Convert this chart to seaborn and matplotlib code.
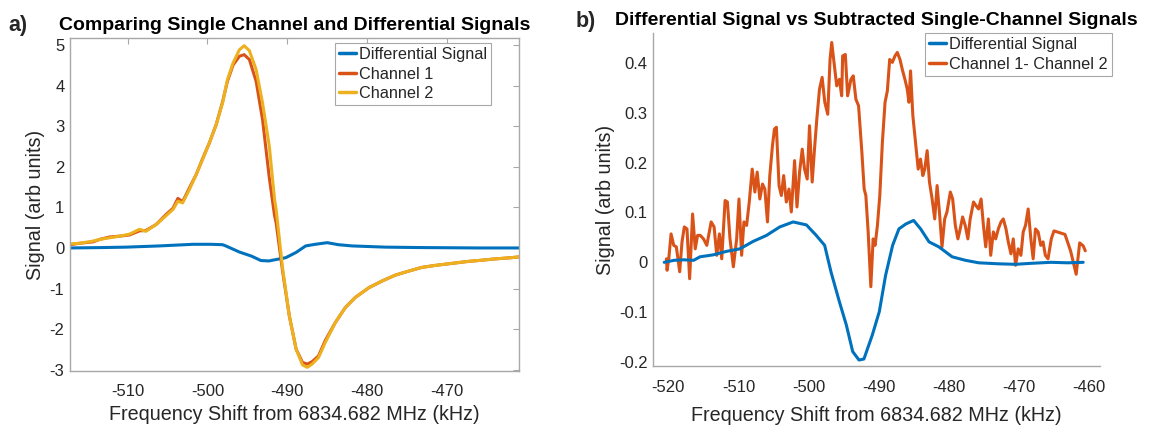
import matplotlib
matplotlib.use("Agg")
import matplotlib.pyplot as plt
import matplotlib.ticker as mticker
import seaborn as sns

# ---------------- panel a: single channels vs differential ----------------
freq_ch = [-517.2, -516.0, -514.3, -513.5, -512.25, -511.0, -509.75, -508.5, -507.7,
           -506.4, -505.2, -504.3, -503.7, -503.1, -502.25, -501.4, -500.6, -499.75,
           -498.9, -498.1, -497.5, -496.8, -496.0, -495.4, -494.75, -493.9, -493.1,
           -492.25, -491.6, -491.4, -490.6, -489.75, -488.9, -488.1, -487.5, -486.9,
           -486.1, -485.25, -484.0, -482.75, -481.5, -479.8, -478.1, -476.5, -474.8,
           -473.2, -471.5, -469.4, -467.3, -466.1, -464.0, -462.0, -461.0]
channel_1 = [0.08, 0.115, 0.15, 0.21, 0.27, 0.29, 0.32, 0.42, 0.43,
             0.58, 0.82, 0.98, 1.22, 1.14, 1.48, 1.81, 2.20, 2.59,
             3.04, 3.60, 4.10, 4.50, 4.72, 4.76, 4.64, 4.10, 3.16,
             1.72, 0.80, 0.62, -0.56, -1.67, -2.49, -2.82, -2.86, -2.80,
             -2.66, -2.28, -1.84, -1.47, -1.22, -0.98, -0.81, -0.67, -0.57,
             -0.48, -0.43, -0.38, -0.33, -0.31, -0.27, -0.24, -0.22]
channel_2 = [0.10, 0.115, 0.17, 0.21, 0.25, 0.29, 0.34, 0.46, 0.41,
             0.58, 0.79, 0.95, 1.15, 1.11, 1.44, 1.81, 2.18, 2.59,
             3.04, 3.57, 4.14, 4.55, 4.88, 4.98, 4.86, 4.39, 3.57,
             2.50, 1.20, 0.95, -0.48, -1.67, -2.49, -2.88, -2.94, -2.86,
             -2.70, -2.33, -1.84, -1.47, -1.22, -0.98, -0.81, -0.67, -0.57,
             -0.48, -0.43, -0.38, -0.33, -0.31, -0.27, -0.24, -0.22]

freq_diff_a = [-517.2, -513.0, -510.2, -506.0, -501.8, -499.5, -498.1, -497.7, -496.0,
               -494.5, -493.3, -492.3, -491.8, -490.2, -488.9, -487.7, -486.5, -485.0,
               -483.6, -481.9, -477.7, -473.5, -466.0, -461.0]
diff_a = [0.0, 0.01, 0.02, 0.05, 0.09, 0.09, 0.08, 0.05, -0.10,
          -0.20, -0.31, -0.32, -0.30, -0.24, -0.11, 0.05, 0.09, 0.13,
          0.08, 0.05, 0.02, 0.01, 0.0, 0.0]

# ---------------- panel b: differential vs channel 1 - channel 2 ----------------
freq_diff_b = [-520.6, -519.2, -517.8, -516.4, -515.5, -513.6, -511.7, -509.8, -507.9,
               -506.0, -504.1, -502.2, -500.3, -498.9, -497.7, -496.8, -495.6, -494.6,
               -493.7, -492.8, -492.1, -490.9, -489.9, -489.0, -488.0, -487.1, -486.1,
               -485.0, -484.0, -482.8, -481.4, -479.5, -477.6, -475.7, -472.9, -470.5,
               -468.2, -465.4, -463.0, -460.8]
diff_b = [0.0, 0.004, 0.005, 0.004, 0.011, 0.015, 0.022, 0.027, 0.042,
          0.054, 0.071, 0.081, 0.075, 0.054, 0.034, -0.019, -0.079, -0.126,
          -0.179, -0.196, -0.194, -0.146, -0.099, -0.026, 0.034, 0.067, 0.077,
          0.084, 0.067, 0.041, 0.031, 0.011, 0.004, -0.001, -0.003, -0.004,
          -0.002, 0.0, -0.001, 0.0]

freq_sub = [-520.28, -520.19, -519.95, -519.62, -519.24, -518.87, -518.39, -518.06, -517.73,
            -517.35, -516.97, -516.55, -516.17, -515.84, -515.46, -514.99, -514.52, -513.90,
            -513.48, -513.10, -512.72, -512.39, -511.91, -511.58, -511.21, -510.73, -510.26,
            -509.93, -509.55, -509.22, -508.84, -508.46, -508.04, -507.66, -507.33, -506.95,
            -506.57, -506.24, -505.86, -505.53, -505.15, -504.87, -504.59, -504.21, -503.88,
            -503.55, -503.17, -502.79, -502.46, -501.99, -501.65, -501.28, -500.90, -500.57,
            -500.19, -499.86, -499.48, -499.15, -498.82, -498.44, -498.06, -497.68, -497.26,
            -496.93, -496.69, -496.31, -495.98, -495.60, -495.27,
            -495.13, -494.75, -494.42, -493.95, -493.62, -493.24, -492.86, -492.39, -492.06,
            -491.82, -491.49, -491.11, -490.78, -490.50, -490.17, -489.83, -489.46, -489.08,
            -488.75, -488.42, -488.04, -487.66, -487.33, -486.95, -486.62, -486.24, -485.91,
            -485.67, -485.44, -485.11, -484.73, -484.35, -484.02, -483.69, -483.41, -483.07,
            -482.74, -482.36, -481.99, -481.65, -481.32, -480.95, -480.57, -480.24, -479.76,
            -479.43, -479.05, -478.68, -478.35, -478.01, -477.64, -477.26, -476.93, -476.45,
            -476.12, -475.74, -475.37, -475.04, -474.71, -474.33, -474.00, -473.62, -473.29,
            -472.91, -472.53, -472.20, -471.82, -471.49, -471.11, -470.78, -470.45, -470.07,
            -469.69, -469.36, -469.03, -468.65, -468.27, -467.94, -467.61, -467.23, -466.86,
            -466.53, -466.20, -465.82, -465.35, -464.97, -463.4, -462.6, -461.8, -461.3,
            -460.8, -460.5]
channel_diff = [0.007, -0.016, 0.007, 0.057, 0.034, 0.031, -0.019, 0.041, 0.071,
                0.067, -0.033, 0.097, 0.027, 0.054, 0.054, 0.047, 0.034, 0.081,
                0.071, 0.014, 0.057, 0.007, 0.124, 0.121, 0.047, -0.009, 0.047,
                0.127, 0.014, 0.081, 0.074, 0.121, 0.187, 0.141, 0.181, 0.127,
                0.157, 0.147, 0.081, 0.174, 0.234, 0.267, 0.271, 0.154, 0.134,
                0.174, 0.121, 0.147, 0.101, 0.204, 0.111, 0.181, 0.227, 0.187,
                0.167, 0.274, 0.161, 0.227, 0.287, 0.347, 0.371, 0.321, 0.297,
                0.407, 0.441, 0.394, 0.354, 0.367, 0.334,
                0.414, 0.417, 0.334, 0.367, 0.374, 0.327, 0.314, 0.221, 0.147,
                0.134, 0.061, -0.049, 0.047, 0.034, 0.074, 0.134, 0.241, 0.321,
                0.344, 0.407, 0.401, 0.414, 0.421, 0.407, 0.387, 0.367, 0.347,
                0.321, 0.384, 0.294, 0.241, 0.187, 0.207, 0.174, 0.187, 0.224,
                0.161, 0.127, 0.087, 0.154, 0.101, 0.031, 0.087, 0.101, 0.141,
                0.127, 0.074, 0.047, 0.067, 0.091, 0.074, 0.047, 0.087, 0.121,
                0.114, 0.107, 0.127, 0.074, 0.031, 0.087, 0.014, 0.061, 0.047,
                0.067, 0.081, 0.087, 0.067, 0.041, 0.017, 0.047, -0.006, 0.027,
                0.014, 0.061, 0.074, 0.107, 0.047, 0.007, 0.067, 0.061, 0.034,
                0.041, 0.014, 0.007, 0.047, 0.063, 0.056, 0.023, -0.024, 0.039,
                0.033, 0.023]

# ---------------- styling ----------------
BLUE, RED, YELLOW = "#0072BD", "#D95319", "#EDB120"
SPINE = "#A8A8A8"
TEXT = "#262626"

sns.set_theme(style="white")
plt.rcParams["font.family"] = ["Liberation Sans", "DejaVu Sans"]
plt.rcParams["axes.unicode_minus"] = False

fig = plt.figure(figsize=(11.53, 4.28), dpi=100)
ax_a = fig.add_axes([70 / 1153, 1 - 371 / 428, 449 / 1153, 333 / 428])
ax_b = fig.add_axes([653 / 1153, 1 - 366 / 428, 447 / 1153, 333 / 428])

LW = 2.2
sns.lineplot(x=freq_diff_a, y=diff_a, ax=ax_a, color=BLUE, lw=LW, sort=False,
             estimator=None, label="Differential Signal")
sns.lineplot(x=freq_ch, y=channel_1, ax=ax_a, color=RED, lw=LW, sort=False,
             estimator=None, label="Channel 1")
sns.lineplot(x=freq_ch, y=channel_2, ax=ax_a, color=YELLOW, lw=LW, sort=False,
             estimator=None, label="Channel 2")

sns.lineplot(x=freq_diff_b, y=diff_b, ax=ax_b, color=BLUE, lw=LW, sort=False,
             estimator=None, label="Differential Signal", zorder=3)
sns.lineplot(x=freq_sub, y=channel_diff, ax=ax_b, color=RED, lw=LW, sort=False,
             estimator=None, label="Channel 1- Channel 2", zorder=2)

ax_a.set_xlim(-517.2, -461.0)
ax_a.set_ylim(-3.03, 5.17)
ax_a.set_xticks([-510, -500, -490, -480, -470])
ax_a.set_yticks(range(-3, 6))

ax_b.set_xlim(-522.2, -458.4)
ax_b.set_ylim(-0.208, 0.46)
ax_b.set_xticks(range(-520, -459, 10))
ax_b.set_yticks([-0.2, -0.1, 0, 0.1, 0.2, 0.3, 0.4])

fmt = mticker.FuncFormatter(lambda v, p: f"{round(v, 3):g}")
for ax, xpad, lpad in ((ax_a, 9, 5), (ax_b, 10, 8)):
    ax.xaxis.set_major_formatter(fmt)
    ax.yaxis.set_major_formatter(fmt)
    ax.tick_params(direction="in", length=4, width=0.8, color=SPINE,
                   labelsize=12, labelcolor=TEXT)
    ax.tick_params(axis="x", pad=xpad)
    ax.tick_params(axis="y", pad=4)
    ax.set_xlabel("Frequency Shift from 6834.682 MHz (kHz)", fontsize=14.2,
                  color=TEXT, labelpad=lpad)
    ax.set_ylabel("Signal (arb units)", fontsize=14.2, color=TEXT, labelpad=3)
    for s in ax.spines.values():
        s.set_color(SPINE)
        s.set_linewidth(1.0)

ax_a.tick_params(top=True, right=True)
ax_b.spines["top"].set_visible(False)
ax_b.spines["right"].set_visible(False)

ax_a.set_title("Comparing Single Channel and Differential Signals",
               fontsize=14, fontweight="bold", color="black", pad=6)
ax_b.set_title("Differential Signal vs Subtracted Single-Channel Signals",
               fontsize=14, fontweight="bold", color="black", pad=6)
fig.text(8 / 1153, 1 - 26 / 428, "a)", fontsize=15.5, fontweight="bold", va="center")
fig.text(576 / 1153, 1 - 21 / 428, "b)", fontsize=15.5, fontweight="bold", va="center")

leg_kw = dict(fontsize=11.7, frameon=True, fancybox=False, framealpha=1,
              edgecolor=SPINE, handlelength=1.05, handletextpad=0.2,
              labelspacing=0.28, borderpad=0.25, borderaxespad=0)
leg_a = ax_a.legend(loc="upper right", bbox_to_anchor=(0.938, 0.985), **leg_kw)
leg_b = ax_b.legend(loc="upper right", bbox_to_anchor=(1.027, 1.0), **leg_kw)
for leg in (leg_a, leg_b):
    leg.get_frame().set_linewidth(0.8)
    for h in leg.get_lines():
        h.set_linewidth(2.5)

fig.savefig("out.png", dpi=100, facecolor="white")
